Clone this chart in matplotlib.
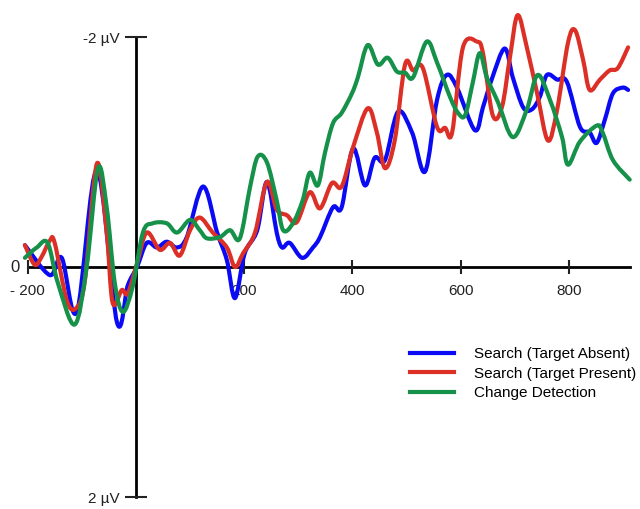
import matplotlib.pyplot as plt
from matplotlib.path import Path
from matplotlib.patches import PathPatch
from matplotlib.lines import Line2D

plt.rcParams['font.family'] = ['Liberation Sans', 'DejaVu Sans']

# time (ms) and amplitude (µV); negative is plotted up
absent_t = [-205, -159, -137, -109, -72, -35, -15, 2, 20, 39, 57, 76, 94, 124, 150, 168, 183,
            201, 224, 242, 260, 270, 284, 307, 327, 340, 364, 380, 401, 423, 441, 460, 484,
            510, 534, 556, 574, 593, 626, 641, 657, 681, 696, 715, 731, 746, 759, 778, 796,
            820, 838, 851, 866, 881, 899, 909]
absent_v = [-0.19, 0.07, -0.08, 0.39, -0.84, 0.48, 0.16, 0.0, -0.21, -0.17, -0.22, -0.17, -0.26,
            -0.70, -0.30, -0.06, 0.27, -0.12, -0.32, -0.74, -0.30, -0.17, -0.21, -0.08, -0.17,
            -0.26, -0.52, -0.52, -1.03, -0.71, -0.95, -0.93, -1.35, -1.17, -0.83, -1.45, -1.67,
            -1.56, -1.19, -1.39, -1.63, -1.90, -1.65, -1.39, -1.37, -1.48, -1.67, -1.63, -1.61,
            -1.22, -1.17, -1.08, -1.28, -1.51, -1.56, -1.54]

present_t = [-205, -187, -174, -159, -150, -127, -109, -94, -72, -54, -43, -26, -15, 2, 20, 44,
             63, 81, 100, 118, 142, 168, 183, 198, 220, 242, 260, 279, 297, 321, 340, 362, 380,
             401, 428, 445, 460, 478, 497, 512, 530, 556, 571, 584, 604, 630, 641, 659, 676,
             691, 705, 722, 741, 761, 778, 798, 811, 826, 838, 857, 875, 890, 909]
present_v = [-0.19, -0.02, -0.09, -0.23, -0.21, 0.30, 0.35, 0.11, -0.90, -0.30, 0.31, 0.20, 0.23,
             -0.03, -0.30, -0.15, -0.21, -0.10, -0.32, -0.43, -0.30, -0.17, 0.0, -0.12, -0.30,
             -0.74, -0.50, -0.45, -0.39, -0.65, -0.51, -0.73, -0.70, -1.04, -1.38, -1.17, -0.86,
             -1.10, -1.76, -1.71, -1.73, -1.22, -1.21, -1.17, -1.91, -1.96, -1.86, -1.32, -1.39,
             -1.83, -2.19, -1.91, -1.51, -1.10, -1.37, -1.95, -2.06, -1.80, -1.54, -1.63, -1.71,
             -1.73, -1.91]

change_t = [-205, -183, -163, -144, -113, -91, -70, -54, -39, -24, -6, 13, 31, 57, 76, 100, 118,
            131, 155, 174, 192, 211, 225, 242, 260, 272, 290, 308, 321, 336, 349, 364, 380, 399,
            410, 428, 447, 465, 482, 497, 512, 537, 556, 580, 595, 608, 622, 635, 648, 669, 696,
            722, 742, 765, 787, 798, 820, 851, 862, 881, 912]
change_v = [-0.08, -0.17, -0.21, 0.14, 0.50, 0.0, -0.86, -0.52, 0.14, 0.39, 0.17, -0.30, -0.38,
            -0.38, -0.30, -0.41, -0.32, -0.25, -0.26, -0.32, -0.25, -0.70, -0.96, -0.91, -0.58,
            -0.32, -0.38, -0.58, -0.82, -0.71, -0.99, -1.25, -1.34, -1.51, -1.65, -1.93, -1.76,
            -1.82, -1.70, -1.69, -1.65, -1.96, -1.78, -1.48, -1.34, -1.32, -1.60, -1.86, -1.65,
            -1.43, -1.13, -1.37, -1.67, -1.45, -1.13, -0.89, -1.09, -1.23, -1.17, -0.93, -0.76]

labels = ['Search (Target Absent)', 'Search (Target Present)', 'Change Detection']
colors = ['#0a0af5', '#dc3027', '#15914a']


def smooth_path(t, v):
    # bezier path through the read points (catmull-rom control points)
    pts = list(zip(t, v))
    verts = [pts[0]]
    codes = [Path.MOVETO]
    n = len(pts)
    for i in range(n - 1):
        p0 = pts[max(i - 1, 0)]
        p1 = pts[i]
        p2 = pts[i + 1]
        p3 = pts[min(i + 2, n - 1)]
        c1 = (p1[0] + (p2[0] - p0[0]) / 6, p1[1] + (p2[1] - p0[1]) / 6)
        c2 = (p2[0] - (p3[0] - p1[0]) / 6, p2[1] - (p3[1] - p1[1]) / 6)
        verts += [c1, c2, p2]
        codes += [Path.CURVE4] * 3
    return Path(verts, codes)


fig = plt.figure(figsize=(6.4, 5.09), dpi=100)
ax = fig.add_axes([0, 0, 1, 1])
ax.set_xlim(-251, 931)
ax.set_ylim(2.104, -2.322)

series = [(absent_t, absent_v), (present_t, present_v), (change_t, change_v)]
for (t, v), c in zip(series, colors):
    ax.add_patch(PathPatch(smooth_path(t, v), facecolor='none', edgecolor=c, lw=3.0,
                           joinstyle='round', capstyle='round', zorder=2))

for s in ['top', 'right']:
    ax.spines[s].set_visible(False)
ax.spines['left'].set_position(('data', 0))
ax.spines['bottom'].set_position(('data', 0))
ax.spines['left'].set_bounds(-2, 2)
ax.spines['bottom'].set_bounds(-200, 912)
for s in ['left', 'bottom']:
    ax.spines[s].set_linewidth(2)
    ax.spines[s].set_zorder(1)

ax.set_xticks([-200, 200, 400, 600, 800])
ax.set_xticklabels(['- 200', '200', '400', '600', '800'])
ax.set_yticks([-2, 2])
ax.set_yticklabels(['-2 µV', '2 µV'])
ax.tick_params(axis='x', direction='inout', length=10, width=1.5, pad=7, labelsize=11,
               colors='#222222')
ax.tick_params(axis='y', direction='inout', length=16, width=1.5, pad=4, labelsize=11,
               colors='#222222')
ax.text(-214, 0, '0', ha='right', va='center', fontsize=12, color='#222222')

handles = [Line2D([], [], color=c, lw=3) for c in colors]
ax.legend(handles, labels, loc='upper left', bbox_to_anchor=(0.64, 0.318),
          bbox_transform=fig.transFigure, frameon=False, fontsize=11, handlelength=2.9,
          handletextpad=1.3, labelspacing=0.36, borderpad=0, borderaxespad=0)

fig.savefig('out.png', dpi=100)
